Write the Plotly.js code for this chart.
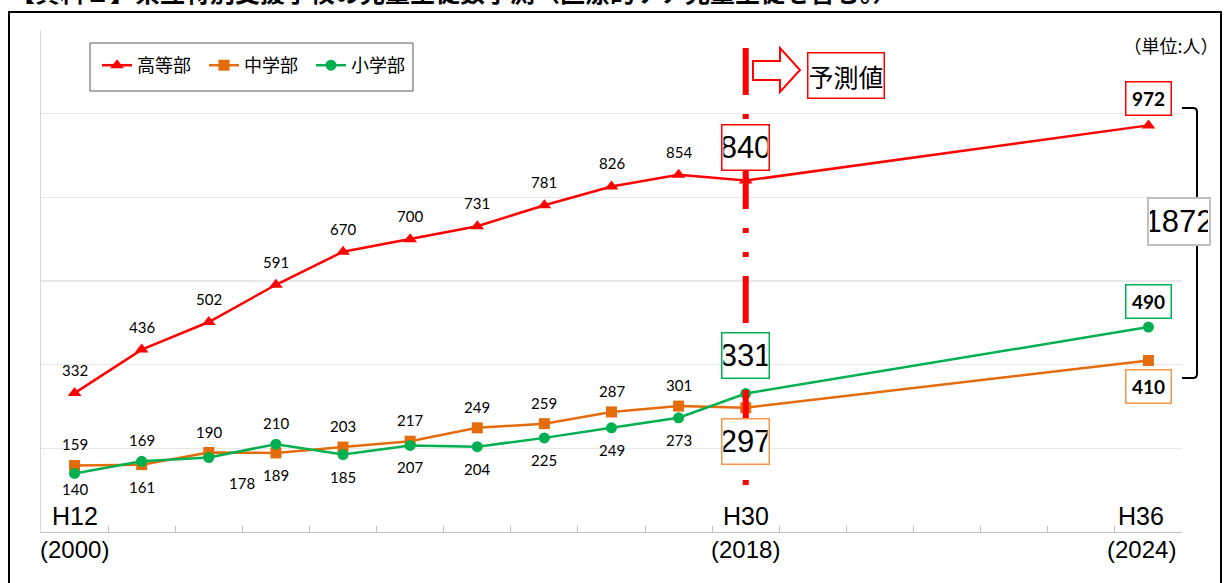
<!DOCTYPE html>
<html>
<head>
<meta charset="utf-8">
<script src="https://cdn.plot.ly/plotly-3.0.1.min.js"></script>
<style>
html,body{margin:0;padding:0;background:#fff;}
#chart{width:1229px;height:583px;}
</style>
</head>
<body>
<div id="chart"></div>
<script>
// ---- data ----
const xIndex = [0,1,2,3,4,5,6,7,8,9,10,11,12,13,14,15,16];
const catTop = ['H12','','','','','','','','','','H30','','','','','','H36'];
const catBottom = ['(2000)','','','','','','','','','','(2018)','','','','','','(2024)'];
const seriesNames = ['高等部','中学部','小学部'];
const high = [332,436,502,591,670,700,731,781,826,854,840,null,null,null,null,null,972];
const mid  = [159,161,190,189,203,217,249,259,287,301,297,null,null,null,null,null,410];
const elem = [140,169,178,210,185,207,204,225,249,273,331,null,null,null,null,null,490];
const forecastIdx = 10;
const lastIdx = 16;
const titleText = '【資料１】県立特別支援学校の児童生徒数予測（医療的ケア児童生徒を含む。）';
const unitText = '（単位:人）';
const forecastText = '予測値';

// ---- layout helpers (pixel -> paper) ----
const W = 1229, H = 583, L = 41, R = 1182, T = 30, B = 532;
const px = x => (x - L) / (R - L);
const py = y => (B - y) / (B - T);

const RED = '#ff0000', ORANGE = '#e46c0a', GREEN = '#00b050';
const ORANGE_BOX = '#f79646';
const NUM_FONT = 'Lato, "Noto Sans", sans-serif';
const JP_FONT = '"Noto Sans CJK JP", sans-serif';
const NARROW = '"Liberation Sans Narrow", "Liberation Sans", sans-serif';

const traces = [
  {x: xIndex, y: high, name: seriesNames[0], mode: 'lines+markers', connectgaps: true,
   line: {color: RED, width: 2.5}, marker: {symbol: 'triangle-up', size: 12, color: RED}},
  {x: xIndex, y: mid, name: seriesNames[1], mode: 'lines+markers', connectgaps: true,
   line: {color: ORANGE, width: 2.5}, marker: {symbol: 'square', size: 11, color: ORANGE}},
  {x: xIndex, y: elem, name: seriesNames[2], mode: 'lines+markers', connectgaps: true,
   line: {color: GREEN, width: 2.5}, marker: {symbol: 'circle', size: 11, color: GREEN}}
];

const annotations = [];
const A = o => Object.assign({showarrow: false, xanchor: 'center', yanchor: 'middle'}, o);
const labelFont = {family: NUM_FONT, size: 15, color: '#000'};

// data labels for historical points
for (let i = 0; i < forecastIdx; i++) {
  annotations.push(A({x: xIndex[i], y: high[i], xref: 'x', yref: 'y', text: String(high[i]),
    yshift: 23, font: labelFont}));
  const pairs = [[mid[i], elem[i]], [elem[i], mid[i]]];
  pairs.forEach(([v, other]) => {
    const above = v > other;
    let ys = above ? 21 : -22;
    let xs = 0;
    if (!above && i === 0) ys = -16;
    if (!above && i === 2) { xs = 33; ys = -25; }
    annotations.push(A({x: xIndex[i], y: v, xref: 'x', yref: 'y', text: String(v),
      yshift: ys, xshift: xs, font: labelFont}));
  });
}

// boxed values at forecast start
const bigFont = {family: NARROW, size: 31, color: '#000'};
const boxBig = {font: bigFont, bgcolor: '#fff', borderwidth: 1.5, width: 44, height: 42, borderpad: 1};
annotations.push(A(Object.assign({x: xIndex[forecastIdx], y: high[forecastIdx], xref: 'x', yref: 'y',
  text: String(high[forecastIdx]), yshift: 33, bordercolor: RED}, boxBig)));
annotations.push(A(Object.assign({x: xIndex[forecastIdx], y: elem[forecastIdx], xref: 'x', yref: 'y',
  text: String(elem[forecastIdx]), yshift: 38, bordercolor: GREEN}, boxBig)));
annotations.push(A(Object.assign({x: xIndex[forecastIdx], y: mid[forecastIdx], xref: 'x', yref: 'y',
  text: String(mid[forecastIdx]), yshift: -34, bordercolor: ORANGE_BOX}, boxBig)));

// boxed values at last point
const boldFont = {family: NUM_FONT, size: 19, color: '#000', weight: 'bold'};
const boxSmall = {font: boldFont, bgcolor: '#fff', borderwidth: 1.5, width: 42, height: 30, borderpad: 1};
annotations.push(A(Object.assign({x: xIndex[lastIdx], y: high[lastIdx], xref: 'x', yref: 'y',
  text: '<b>' + high[lastIdx] + '</b>', yshift: 27, bordercolor: RED}, boxSmall)));
annotations.push(A(Object.assign({x: xIndex[lastIdx], y: elem[lastIdx], xref: 'x', yref: 'y',
  text: '<b>' + elem[lastIdx] + '</b>', yshift: 26, bordercolor: GREEN}, boxSmall)));
annotations.push(A(Object.assign({x: xIndex[lastIdx], y: mid[lastIdx], xref: 'x', yref: 'y',
  text: '<b>' + mid[lastIdx] + '</b>', yshift: -26, bordercolor: ORANGE_BOX}, boxSmall)));

// total box
const total = high[lastIdx] + mid[lastIdx] + elem[lastIdx];
annotations.push(A({xref: 'paper', yref: 'paper', x: px(1179), y: py(221), text: String(total),
  font: bigFont, bgcolor: '#fff', bordercolor: '#bfbfbf', borderwidth: 2,
  width: 58, height: 43, borderpad: 1}));

// forecast label
annotations.push(A({xref: 'paper', yref: 'paper', x: px(846), y: py(75), text: forecastText,
  font: {family: JP_FONT, size: 25, color: '#000'}, bgcolor: '#fff',
  bordercolor: RED, borderwidth: 1.5, width: 73, height: 42, borderpad: 1}));

// unit
annotations.push(A({xref: 'paper', yref: 'paper', x: px(1171), y: py(45), text: unitText,
  font: {family: JP_FONT, size: 18, color: '#000'}, bgcolor: '#fff',
  width: 92, height: 34, borderpad: 0}));

// category labels
catTop.forEach((t, i) => {
  if (!t) return;
  const xs = (i === lastIdx) ? -7 : 0;
  annotations.push(A({x: xIndex[i], y: 0, xref: 'x', yref: 'y', text: t,
    yshift: 16, xshift: xs, font: {family: NARROW, size: 25, color: '#000'}}));
  annotations.push(A({x: xIndex[i], y: 0, xref: 'x', yref: 'y', text: catBottom[i],
    yshift: -17, xshift: xs, font: {family: NARROW, size: 24, color: '#000'}}));
});

// title (cut off at top, as in the source image)
annotations.push(A({xref: 'paper', yref: 'paper', x: px(8), y: py(11), xanchor: 'left', yanchor: 'bottom',
  text: '<b>' + titleText + '</b>', font: {family: JP_FONT, size: 25, color: '#000'}}));

// shapes
const P = (x, y) => px(x).toFixed(5) + ',' + py(y).toFixed(5);
const arrowPath = 'M' + P(753, 61) + ' L' + P(780, 61) + ' L' + P(780, 48) + ' L' + P(800, 70) +
  ' L' + P(780, 92) + ' L' + P(780, 80) + ' L' + P(753, 80) + ' Z';
const bracketPath = 'M' + P(1182, 108) + ' L' + P(1193, 108) + ' Q' + P(1197, 108) + ' ' + P(1197, 112) +
  ' L' + P(1197, 374) + ' Q' + P(1197, 378) + ' ' + P(1193, 378) + ' L' + P(1182, 378);

const shapes = [
  // frame
  {type: 'rect', xref: 'paper', yref: 'paper', x0: px(9), x1: px(1221), y0: py(12), y1: py(600),
   line: {color: '#000', width: 2}, layer: 'below'},
  // legend box
  {type: 'rect', xref: 'paper', yref: 'paper', x0: px(90), x1: px(413), y0: py(43), y1: py(91),
   line: {color: '#595959', width: 1}, fillcolor: '#fff', layer: 'above'},
  // forecast divider
  {type: 'line', xref: 'x', yref: 'y', x0: xIndex[forecastIdx], x1: xIndex[forecastIdx],
   y0: (B - 48) / (B - T) * 1200, y1: (B - 487) / (B - T) * 1200,
   line: {color: RED, width: 6, dash: '47px,19px,5px,19px,5px,19px'}, layer: 'above'},
  // arrow
  {type: 'path', xref: 'paper', yref: 'paper', path: arrowPath, line: {color: RED, width: 2},
   fillcolor: '#fff', layer: 'above'},
  // bracket
  {type: 'path', xref: 'paper', yref: 'paper', path: bracketPath, line: {color: '#000', width: 2},
   layer: 'above'}
];

const layout = {
  width: W, height: H,
  margin: {l: L, r: W - R, t: T, b: H - B, pad: 0},
  paper_bgcolor: '#fff', plot_bgcolor: '#fff',
  showlegend: true,
  legend: {orientation: 'h', x: px(97), y: py(47), xanchor: 'left', yanchor: 'top',
    font: {family: JP_FONT, size: 18, color: '#000'}, bgcolor: 'rgba(0,0,0,0)', borderwidth: 0,
    traceorder: 'normal', entrywidth: 62, entrywidthmode: 'pixels'},
  xaxis: {range: [-0.5, 16.5], showgrid: false, zeroline: false, showline: true, linecolor: '#bfbfbf',
    linewidth: 1, ticks: 'inside', ticklen: 6, tickcolor: '#bfbfbf', tickwidth: 1,
    tickvals: xIndex.map(v => v + 0.5), showticklabels: false, fixedrange: true},
  yaxis: {range: [0, 1200], dtick: 200, tick0: 0, showgrid: true, gridcolor: '#e8e8e8', gridwidth: 1.5,
    zeroline: false, showline: true, linecolor: '#d9d9d9', linewidth: 1.5, showticklabels: false,
    ticks: '', fixedrange: true},
  annotations: annotations,
  shapes: shapes
};

Plotly.newPlot('chart', traces, layout, {displayModeBar: false, staticPlot: true});
</script>
</body>
</html>
